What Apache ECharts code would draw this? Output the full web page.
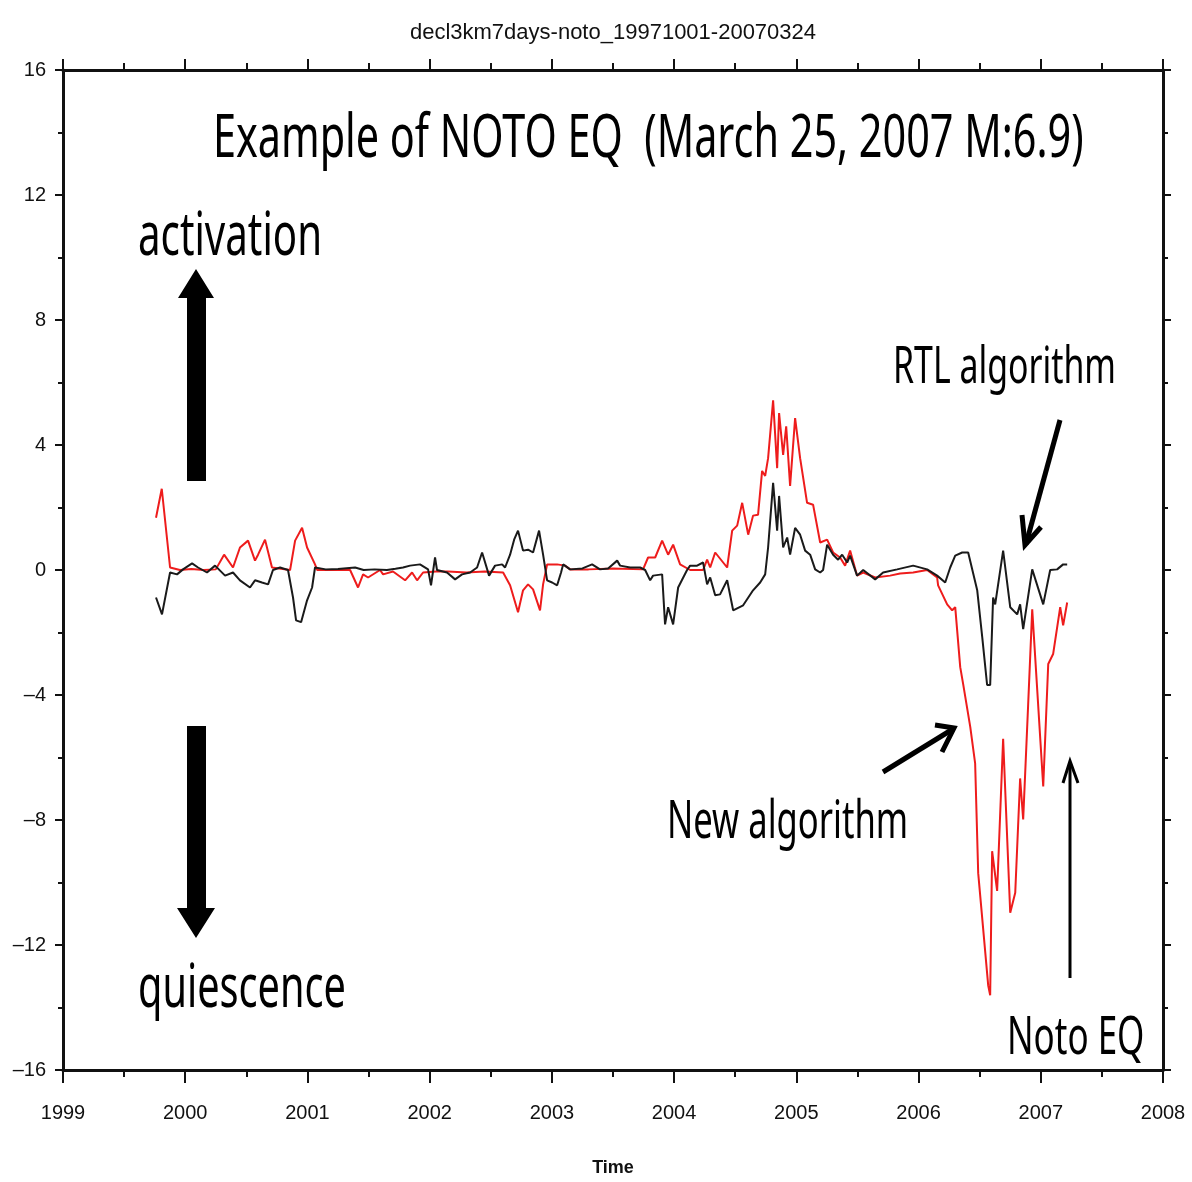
<!DOCTYPE html>
<html>
<head>
<meta charset="utf-8">
<script src="https://cdn.jsdelivr.net/npm/echarts@6/dist/echarts.min.js"></script>
<style>
html, body { margin: 0; padding: 0; background: #fff; }
#main { width: 1192px; height: 1182px; }
</style>
</head>
<body>
<div id="main"></div>
<script>
// RTL algorithm (black)
var rtlTime = [1999.761, 1999.810, 1999.876, 1999.933, 1999.982, 2000.056, 2000.105, 2000.178, 2000.244, 2000.326,
	2000.391, 2000.448, 2000.530, 2000.571, 2000.628, 2000.678, 2000.718, 2000.776, 2000.841, 2000.882,
	2000.907, 2000.948, 2000.997, 2001.038, 2001.062, 2001.15, 2001.25, 2001.390, 2001.46, 2001.55,
	2001.65, 2001.72, 2001.782, 2001.840, 2001.921, 2001.987, 2002.011, 2002.044, 2002.060, 2002.142,
	2002.208, 2002.265, 2002.331, 2002.388, 2002.429, 2002.486, 2002.535, 2002.593, 2002.617, 2002.658,
	2002.691, 2002.723, 2002.764, 2002.805, 2002.846, 2002.895, 2002.928, 2002.961, 2003.002, 2003.043,
	2003.075, 2003.092, 2003.149, 2003.25, 2003.329, 2003.394, 2003.46, 2003.534, 2003.558, 2003.640,
	2003.722, 2003.763, 2003.804, 2003.828, 2003.902, 2003.926, 2003.951, 2003.992, 2004.033, 2004.106,
	2004.131, 2004.188, 2004.237, 2004.270, 2004.295, 2004.336, 2004.376, 2004.434, 2004.483, 2004.565,
	2004.646, 2004.704, 2004.745, 2004.769, 2004.810, 2004.843, 2004.859, 2004.892, 2004.925, 2004.949,
	2004.990, 2005.031, 2005.072, 2005.113, 2005.154, 2005.195, 2005.219, 2005.252, 2005.301, 2005.342,
	2005.375, 2005.416, 2005.440, 2005.497, 2005.547, 2005.645, 2005.710, 2005.825, 2005.956, 2006.070,
	2006.152, 2006.218, 2006.259, 2006.300, 2006.357, 2006.406, 2006.480, 2006.521, 2006.561, 2006.586,
	2006.610, 2006.627, 2006.692, 2006.750, 2006.807, 2006.831, 2006.856, 2006.930, 2007.020, 2007.077,
	2007.134, 2007.183, 2007.216];
var rtlValue = [-0.88, -1.42, -0.08, -0.14, 0.02, 0.21, 0.08, -0.08, 0.14, -0.18,
	-0.08, -0.33, -0.56, -0.33, -0.40, -0.46, 0, 0.08, 0, -0.88,
	-1.61, -1.67, -0.97, -0.56, 0.08, 0.02, 0.03, 0.08, 0.0, 0.02,
	0.0, 0.04, 0.08, 0.14, 0.18, 0.02, -0.49, 0.40, 0, -0.08,
	-0.30, -0.14, -0.08, 0.08, 0.56, -0.18, 0.14, 0.18, 0.08, 0.49,
	0.97, 1.26, 0.62, 0.65, 0.56, 1.26, 0.49, -0.33, -0.40, -0.49,
	-0.08, 0.18, 0.02, 0.05, 0.18, 0.02, 0.05, 0.30, 0.14, 0.08,
	0.08, 0, -0.33, -0.18, -0.14, -1.74, -1.19, -1.74, -0.56, 0,
	0.14, 0.14, 0.24, -0.46, -0.24, -0.81, -0.78, -0.33, -1.29, -1.13,
	-0.65, -0.40, -0.14, 0.72, 2.79, 1.26, 2.37, 0.72, 1.04, 0.49,
	1.35, 1.13, 0.62, 0.49, 0.02, -0.08, 0, 0.81, 0.49, 0.33,
	0.49, 0.24, 0.46, -0.18, 0, -0.30, -0.08, 0.02, 0.14, 0.02,
	-0.18, -0.40, 0.08, 0.46, 0.56, 0.56, -0.65, -2.15, -3.68, -3.68,
	-0.88, -1.10, 0.62, -1.19, -1.42, -1.10, -1.89, 0.02, -1.10, 0,
	0.02, 0.18, 0.18];

// New algorithm (red)
var newTime = [1999.761, 1999.808, 1999.876, 1999.957, 2000.05, 2000.15, 2000.25, 2000.318, 2000.391, 2000.448,
	2000.514, 2000.571, 2000.596, 2000.653, 2000.710, 2000.858, 2000.899, 2000.956, 2000.997, 2001.062,
	2001.079, 2001.20, 2001.349, 2001.414, 2001.455, 2001.496, 2001.594, 2001.619, 2001.70, 2001.799,
	2001.856, 2001.897, 2001.946, 2002.05, 2002.15, 2002.30, 2002.45, 2002.601, 2002.658, 2002.723,
	2002.764, 2002.805, 2002.846, 2002.903, 2002.928, 2002.961, 2003.043, 2003.108, 2003.149, 2003.30,
	2003.50, 2003.746, 2003.787, 2003.845, 2003.902, 2003.951, 2003.992, 2004.049, 2004.131, 2004.237,
	2004.270, 2004.295, 2004.336, 2004.434, 2004.475, 2004.516, 2004.557, 2004.606, 2004.646, 2004.687,
	2004.720, 2004.745, 2004.769, 2004.810, 2004.843, 2004.859, 2004.892, 2004.917, 2004.949, 2004.990,
	2005.031, 2005.088, 2005.137, 2005.195, 2005.252, 2005.301, 2005.358, 2005.399, 2005.440, 2005.497,
	2005.547, 2005.645, 2005.767, 2005.849, 2005.956, 2006.070, 2006.152, 2006.160, 2006.234, 2006.275,
	2006.300, 2006.341, 2006.365, 2006.423, 2006.463, 2006.488, 2006.570, 2006.586, 2006.602, 2006.643,
	2006.692, 2006.750, 2006.791, 2006.831, 2006.856, 2006.897, 2006.930, 2007.020, 2007.061, 2007.101,
	2007.159, 2007.183, 2007.216];
var newValue = [1.67, 2.60, 0.08, 0, 0.03, 0.0, 0.02, 0.49, 0.08, 0.72,
	0.94, 0.30, 0.49, 0.97, 0.08, 0, 0.94, 1.35, 0.72, 0.18,
	0, 0.0, 0, -0.56, -0.14, -0.24, 0, -0.14, -0.05, -0.33,
	-0.08, -0.33, -0.08, -0.05, -0.05, -0.08, -0.05, -0.08, -0.49, -1.35,
	-0.65, -0.46, -0.62, -1.29, -0.46, 0.18, 0.18, 0.14, 0.02, 0.02,
	0.05, 0.02, 0.40, 0.40, 0.94, 0.49, 0.81, 0.18, 0, 0,
	0.33, 0.08, 0.56, 0.08, 1.26, 1.42, 2.15, 1.13, 1.74, 1.77,
	3.17, 3.01, 3.58, 5.43, 3.26, 5.02, 3.68, 4.60, 2.69, 4.86,
	3.58, 2.15, 2.09, 0.88, 0.97, 0.56, 0.40, 0.14, 0.62, -0.18,
	-0.08, -0.24, -0.18, -0.11, -0.08, 0, -0.24, -0.49, -1.10, -1.29,
	-1.19, -3.11, -3.65, -5.02, -6.19, -9.70, -13.30, -13.61, -9.00, -10.27,
	-5.40, -10.97, -10.33, -6.67, -7.98, -4.28, -1.26, -6.93, -3.01, -2.69,
	-1.19, -1.77, -1.04];

var chartTitle = 'decl3km7days-noto_19971001-20070324';
var xName = 'Time';

function zip(xs, ys) {
	var out = [];
	for (var i = 0; i < xs.length; i++) out.push([xs[i], ys[i]]);
	return out;
}

var myChart = echarts.init(document.getElementById('main'));

var lineCol = '#111';
var labelFont = { fontFamily: 'Liberation Sans', fontSize: 20, color: '#111' };
var noteFont = 'Noto Sans';

// 注释文字：横向压缩
function note(text, x, y, size, sx) {
	return {
		type: 'text', x: x, y: y, scaleX: sx, z: 10,
		style: { text: text, font: size + 'px "' + noteFont + '"', fill: '#000', textAlign: 'left', textVerticalAlign: 'middle' }
	};
}

var option = {
	backgroundColor: '#fff',
	animation: false,
	grid: { left: 63, right: 29, top: 70, bottom: 107 },
	xAxis: [{
		type: 'value', min: 1999, max: 2008, interval: 1, position: 'bottom',
		name: xName, nameLocation: 'middle', nameGap: 89,
		nameTextStyle: { fontFamily: 'Liberation Sans', fontSize: 18, fontWeight: 'bold', color: '#111' },
		axisLine: { onZero: false, lineStyle: { color: lineCol, width: 3 } },
		axisTick: { length: 13, lineStyle: { color: lineCol, width: 2 } },
		minorTick: { show: true, splitNumber: 2, length: 7, lineStyle: { color: lineCol, width: 2 } },
		axisLabel: Object.assign({ margin: 33, formatter: function (v) { return String(v); } }, labelFont),
		splitLine: { show: false }
	}, {
		type: 'value', min: 1999, max: 2008, interval: 1, position: 'top',
		axisLine: { onZero: false, lineStyle: { color: lineCol, width: 3 } },
		axisTick: { length: 11, lineStyle: { color: lineCol, width: 2 } },
		minorTick: { show: true, splitNumber: 2, length: 7, lineStyle: { color: lineCol, width: 2 } },
		axisLabel: { show: false },
		splitLine: { show: false }
	}],
	yAxis: [{
		type: 'value', min: -16, max: 16, interval: 4, position: 'left',
		axisLine: { onZero: false, lineStyle: { color: lineCol, width: 3 } },
		axisTick: { length: 8, lineStyle: { color: lineCol, width: 2 } },
		minorTick: { show: true, splitNumber: 2, length: 5, lineStyle: { color: lineCol, width: 2 } },
		axisLabel: Object.assign({
			margin: 17,
			formatter: function (v) { return String(v).replace('-', '\u2013'); }
		}, labelFont),
		splitLine: { show: false }
	}, {
		type: 'value', min: -16, max: 16, interval: 4, position: 'right',
		axisLine: { onZero: false, lineStyle: { color: lineCol, width: 3 } },
		axisTick: { length: 8, lineStyle: { color: lineCol, width: 2 } },
		minorTick: { show: true, splitNumber: 2, length: 5, lineStyle: { color: lineCol, width: 2 } },
		axisLabel: { show: false },
		splitLine: { show: false }
	}],
	series: [{
		name: 'RTL algorithm',
		type: 'line',
		showSymbol: false,
		data: zip(rtlTime, rtlValue),
		lineStyle: { color: '#1a1a1a', width: 2 },
		z: 3
	}, {
		name: 'New algorithm',
		type: 'line',
		showSymbol: false,
		data: zip(newTime, newValue),
		lineStyle: { color: '#ee1c1c', width: 2 },
		z: 2
	}],
	graphic: [
		{ type: 'text', x: 613, y: 33, style: { text: chartTitle, font: '22px "Liberation Sans"', fill: '#111', textAlign: 'center', textVerticalAlign: 'middle' } },
		note('Example of NOTO EQ  (March 25, 2007 M:6.9)', 213, 140, 60, 0.689),
		note('activation', 138, 238, 60, 0.671),
		note('quiescence', 138, 990, 60, 0.661),
		note('RTL algorithm', 893, 368, 51, 0.664),
		note('New algorithm', 667, 823, 52, 0.665),
		note('Noto EQ', 1007, 1039, 53, 0.66),
		// 粗箭头 上 / 下
		{ type: 'polygon', shape: { points: [[187, 481], [206, 481], [206, 298], [214, 298], [196, 269], [178, 298], [187, 298]] }, style: { fill: '#000' } },
		{ type: 'polygon', shape: { points: [[187, 726], [206, 726], [206, 908], [215, 908], [196, 938], [177, 908], [187, 908]] }, style: { fill: '#000' } },
		// RTL 箭头
		{ type: 'polyline', shape: { points: [[1060, 420], [1026, 544]] }, style: { stroke: '#000', lineWidth: 5 } },
		{ type: 'polyline', shape: { points: [[1022, 515], [1025, 545], [1041, 527]] }, style: { stroke: '#000', lineWidth: 5, fill: null } },
		// New algorithm 箭头
		{ type: 'polyline', shape: { points: [[883, 772], [953, 729]] }, style: { stroke: '#000', lineWidth: 5 } },
		{ type: 'polyline', shape: { points: [[935, 725], [954, 728], [942, 752]] }, style: { stroke: '#000', lineWidth: 5, fill: null } },
		// Noto EQ 箭头
		{ type: 'polyline', shape: { points: [[1070, 978], [1070, 762]] }, style: { stroke: '#000', lineWidth: 3 } },
		{ type: 'polyline', shape: { points: [[1063, 783], [1070, 761], [1078, 783]] }, style: { stroke: '#000', lineWidth: 3, fill: null } }
	]
};

myChart.setOption(option);
</script>
</body>
</html>
